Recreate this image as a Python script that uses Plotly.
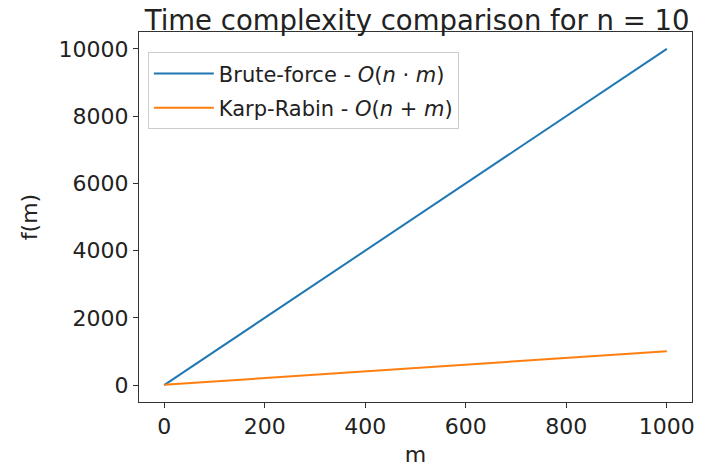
import plotly.graph_objects as go

m_values = [0, 1000]
brute_force = [0, 10000]
karp_rabin = [10, 1010]
x_ticks = [0, 200, 400, 600, 800, 1000]
y_ticks = [0, 2000, 4000, 6000, 8000, 10000]
y_tick_labels = ["0", "2000", "4000", "6000", "8000", "10000"]

fig = go.Figure()
fig.add_trace(go.Scatter(x=m_values, y=brute_force, mode="lines",
                         line=dict(color="#1f77b4", width=2), legendgroup="a",
                         name="Brute-force - <i>O</i>(<i>n</i> · <i>m</i>)"))
fig.add_trace(go.Scatter(x=m_values, y=karp_rabin, mode="lines",
                         line=dict(color="#ff7f0e", width=2), legendgroup="b",
                         name="Karp-Rabin - <i>O</i>(<i>n</i> + <i>m</i>)"))

axis_common = dict(showgrid=False, zeroline=False, showline=True, linecolor="#333",
                   linewidth=1, mirror=True, ticks="outside", ticklen=5, tickcolor="#333",
                   automargin=False, tickfont=dict(size=22, color="#222"))

fig.update_layout(
    width=708, height=467,
    margin=dict(l=139, r=16, t=32, b=65),
    paper_bgcolor="white", plot_bgcolor="white",
    font=dict(family="DejaVu Sans", color="#222"),
    title=dict(text="Time complexity comparison for n = 10", xref="paper", x=0.503, xanchor="center",
               yref="container", y=0.977, yanchor="top", font=dict(size=27.5, color="#222")),
    xaxis=dict(range=[-50, 1050], tickvals=x_ticks, title=dict(text="m", font=dict(size=22), standoff=10),
               **axis_common),
    yaxis=dict(range=[-500, 10500], tickvals=y_ticks, ticktext=y_tick_labels,
               title=dict(text="f(m)", font=dict(size=22), standoff=14),
               **axis_common),
    legend=dict(x=0.016, y=0.945, xanchor="left", yanchor="top", bgcolor="rgba(255,255,255,0.8)",
                bordercolor="#cccccc", borderwidth=1, font=dict(size=21, color="#222"),
                traceorder="grouped", tracegroupgap=4, itemwidth=60),
    showlegend=True,
)

fig.write_html("out.html", config={"displayModeBar": False},
               post_script="document.body.style.margin='0';")
